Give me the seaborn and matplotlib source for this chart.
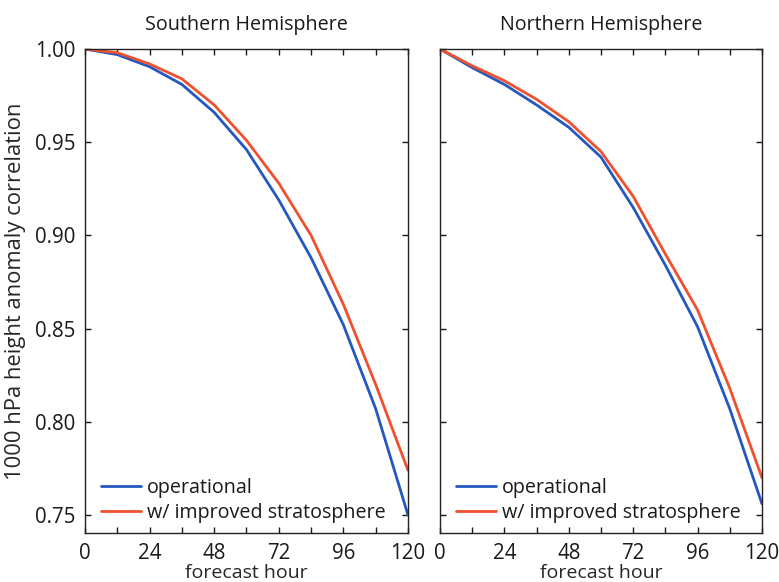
import matplotlib
matplotlib.use("Agg")
import matplotlib.pyplot as plt
from matplotlib.ticker import MultipleLocator, FormatStrFormatter
import seaborn as sns
import pandas as pd

# ---- data ----
hours = [0, 12, 24, 36, 48, 60, 72, 84, 96, 108, 120]
sh_operational = [1.000, 0.997, 0.9905, 0.981, 0.966, 0.946, 0.919, 0.888, 0.852, 0.807, 0.750]
sh_improved    = [1.000, 0.998, 0.992, 0.984, 0.970, 0.951, 0.928, 0.900, 0.863, 0.820, 0.774]
nh_operational = [1.000, 0.990, 0.981, 0.970, 0.958, 0.942, 0.915, 0.884, 0.851, 0.807, 0.756]
nh_improved    = [1.000, 0.991, 0.983, 0.973, 0.961, 0.945, 0.921, 0.890, 0.860, 0.818, 0.770]
series_names = ["operational", "w/ improved stratosphere"]
panel_titles = ["Southern Hemisphere", "Northern Hemisphere"]
x_ticks = [0, 24, 48, 72, 96, 120]
y_ticks = [0.75, 0.80, 0.85, 0.90, 0.95, 1.00]
colors = ["#2457c0", "#f0502e"]

rows = []
for title, ops, imp in [(panel_titles[0], sh_operational, sh_improved),
                        (panel_titles[1], nh_operational, nh_improved)]:
    for h, v in zip(hours, ops):
        rows.append((title, series_names[0], h, v))
    for h, v in zip(hours, imp):
        rows.append((title, series_names[1], h, v))
df = pd.DataFrame(rows, columns=["panel", "series", "hour", "corr"])

sns.set_style("ticks")
plt.rcParams["font.family"] = ["Open Sans", "DejaVu Sans"]
plt.rcParams["text.color"] = "#1a1a1a"

fig = plt.figure(figsize=(7.79, 5.82), dpi=100)
axL = fig.add_axes([0.1091, 0.0842, 0.4146, 0.8316])
axR = fig.add_axes([0.5648, 0.0842, 0.4133, 0.8316])

for ax, title in zip([axL, axR], panel_titles):
    sub = df[df["panel"] == title]
    sns.lineplot(data=sub, x="hour", y="corr", hue="series", hue_order=series_names,
                 palette=colors, linewidth=2.0, ax=ax, legend=True)
    ax.set_xlim(0, 120)
    ax.set_ylim(0.7403, 1.0)
    ax.set_title(title, fontsize=14.2, pad=14)
    ax.set_xticks(x_ticks)
    ax.xaxis.set_minor_locator(MultipleLocator(12))
    ax.set_yticks(y_ticks)
    ax.yaxis.set_major_formatter(FormatStrFormatter("%.2f"))
    ax.tick_params(which="both", direction="in", top=True, right=True,
                   length=4, width=1.0, labelsize=14.8, colors="#1a1a1a", pad=7)
    for s in ax.spines.values():
        s.set_visible(True)
        s.set_linewidth(1.0)
        s.set_color("#222222")
    ax.set_xlabel("forecast hour", fontsize=14, labelpad=0.5)
    leg = ax.legend(loc="lower left", frameon=False, fontsize=14.2, handlelength=2.0,
                    handletextpad=0.3, borderaxespad=0.1, labelspacing=0.25,
                    bbox_to_anchor=(0.02, 0.0))
    for line in leg.get_lines():
        line.set_linewidth(2.0)

axL.set_ylabel("1000 hPa height anomaly correlation", fontsize=15.8, labelpad=6)
axR.set_ylabel("")
axR.tick_params(labelleft=False)

fig.savefig("out.png", dpi=100)
